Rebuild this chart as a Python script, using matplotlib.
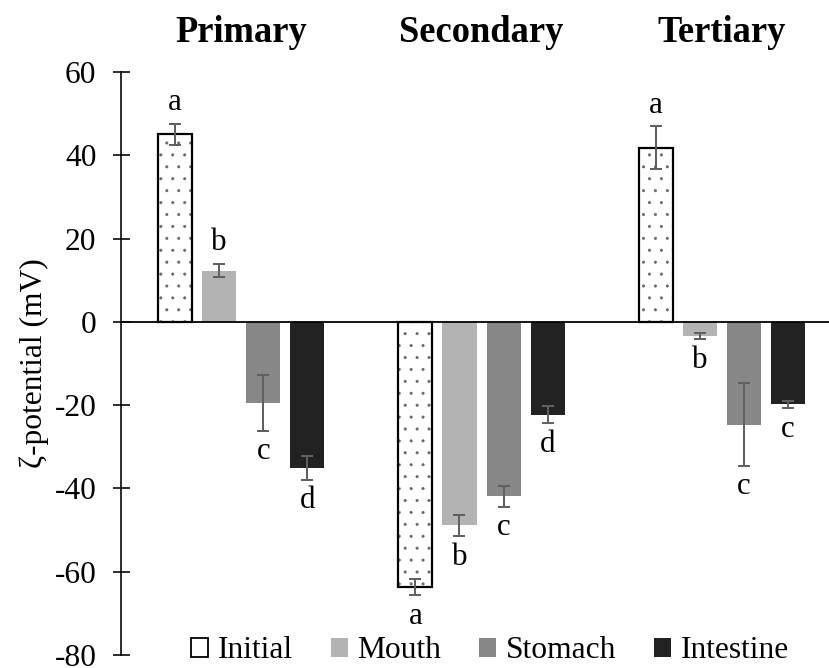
import numpy as np
import matplotlib.pyplot as plt
from matplotlib.patches import Patch

# render at a higher dpi so the dotted hatch comes out sparser; sizes below are given in pixels
DPI = 143


def px(v):
    return v * 72 / DPI


plt.rcParams['font.family'] = ['Liberation Serif', 'DejaVu Serif']
plt.rcParams['axes.unicode_minus'] = False
plt.rcParams['hatch.linewidth'] = px(0.6)
plt.rcParams['hatch.color'] = '#666666'

# zeta potential (mV) per emulsion type and digestion stage
groups = ['Primary', 'Secondary', 'Tertiary']
stages = ['Initial', 'Mouth', 'Stomach', 'Intestine']
means = np.array([
    [45.0, 12.3, -19.4, -35.1],
    [-63.7, -48.9, -41.9, -22.3],
    [41.8, -3.4, -24.7, -19.8],
])
errors = np.array([
    [2.6, 1.6, 6.7, 2.8],
    [2.0, 2.6, 2.5, 2.0],
    [5.2, 0.8, 9.9, 0.9],
])
letters = [
    ['a', 'b', 'c', 'd'],
    ['a', 'b', 'c', 'd'],
    ['a', 'b', 'c', 'c'],
]
colors = ['white', '#b3b3b3', '#878787', '#222222']

fig = plt.figure(figsize=(829 / DPI, 668 / DPI), dpi=DPI)
ax = fig.add_axes([121 / 829, 1 - 655 / 668, 1 - 121 / 829, (655 - 72) / 668])

step = 44 / 240
width = 34 / 240
x = np.arange(len(groups))
for j, stage in enumerate(stages):
    xs = x + (j - 1.5) * step
    vals = means[:, j]
    if stage == 'Initial':
        ax.bar(xs, vals, width, color='white', hatch='..', edgecolor='#666666', linewidth=0, zorder=2)
        ax.bar(xs, vals, width, fill=False, edgecolor='black', linewidth=px(2.2), zorder=3)
    else:
        ax.bar(xs, vals, width, color=colors[j], linewidth=0, zorder=2)
    ax.errorbar(xs, vals, yerr=errors[:, j], fmt='none', ecolor='#606060',
                elinewidth=px(2), capsize=px(6), capthick=px(2), zorder=4)
    for i in range(len(groups)):
        sign = 1 if vals[i] >= 0 else -1
        ax.annotate(letters[i][j], xy=(xs[i], vals[i] + sign * errors[i, j]),
                    xytext=(0, sign * px(21)), textcoords='offset points',
                    ha='center', va='center', fontsize=px(31))

ax.axhline(0, color='black', linewidth=px(1.8), zorder=5)

for i, g in enumerate(groups):
    ax.text(x[i], 1.068, g, transform=ax.get_xaxis_transform(), ha='center', va='center',
            fontsize=px(36.5), fontweight='bold')

ax.set_xlim(-0.5, (829 - 242) / 240)
ax.set_ylim(-80, 60)
ax.set_yticks(np.arange(-80, 61, 20))
ax.tick_params(axis='y', direction='inout', length=px(17), width=px(1.6),
               labelsize=px(31.5), pad=px(16))
ax.set_xticks([])
for side in ['top', 'right', 'bottom']:
    ax.spines[side].set_visible(False)
ax.spines['left'].set_linewidth(px(1.6))
ax.set_ylabel('ζ-potential (mV)', fontsize=px(31.5), labelpad=px(6))
ax.patch.set_alpha(0)

handles = [
    Patch(facecolor='white', edgecolor='black', linewidth=px(1.8)),
    Patch(facecolor=colors[1]),
    Patch(facecolor=colors[2]),
    Patch(facecolor=colors[3]),
]
fig.legend(handles, stages, loc='center', bbox_to_anchor=(490 / 829, 1 - 651 / 668), ncol=4,
           frameon=False, fontsize=px(31.5), handlelength=0.55, handleheight=0.55,
           handletextpad=0.3, columnspacing=1.2, borderpad=0)

fig.savefig('out.png', dpi=DPI)
